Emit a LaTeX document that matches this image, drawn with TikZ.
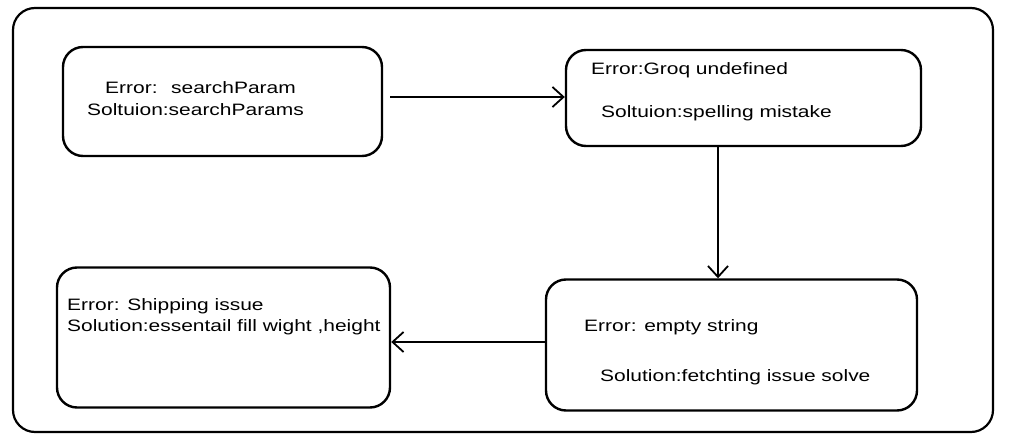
\documentclass[tikz,border=0pt]{standalone}
\usepackage{fontspec}
\setmainfont[FakeStretch=1.27]{Liberation Sans}
\usepackage{tikz}
\usetikzlibrary{arrows.meta}
\usetikzlibrary{positioning}

\begin{document}
\begin{tikzpicture}[
    x=1pt, y=-1pt,
    box/.style={draw, line width=2.4pt, rounded corners=20pt, inner sep=0pt},
    frame/.style={draw, line width=2.2pt, rounded corners=22pt},
    link/.style={line width=2.2pt, -{Straight Barb[length=11pt,width=20pt,line width=1.8pt]}},
    txt/.style={anchor=west, inner sep=0pt, font=\fontsize{16.5}{18}\selectfont}
]
\useasboundingbox (0,0) rectangle (1010,441);

% Outer frame
\draw[frame] (13,8) rectangle (993,432);

% Boxes
\node[box, minimum width=319pt, minimum height=109pt] (err1) at (222.5,101.5) {};
\node[box, minimum width=355pt, minimum height=96pt] (err2) at (743.5,98) {};
\node[box, minimum width=371pt, minimum height=131pt] (err3) at (731.5,345) {};
\node[box, minimum width=333pt, minimum height=140pt] (err4) at (223.5,337.5) {};

% Texts
\node[txt] (e1) at (105,88) {Error: \ searchParam};
\node[txt] (s1) at (87,110) {Soltuion:searchParams};
\node[txt] (e2) at (591,70) {Error:Groq undefined};
\node[txt] (s2) at (601,113) {Soltuion:spelling mistake};
\node[txt] (e3) at (584,327) {Error: empty string};
\node[txt] (s3) at (600,377) {Solution:fetchting issue solve};
\node[txt] (e4) at (67,306) {Error: Shipping issue};
\node[txt] (s4) at (67,327) {Solution:essentail fill wight ,height};

% Arrows
\coordinate (a1) at (390,97);
\coordinate (a2) at (718,146);
\coordinate (a3) at (546,342);
\draw[link] (a1) -- (err2.west |- a1);
\draw[link] (a2) -- (a2 |- err3.north);
\draw[link] (a3) -- (err4.east |- a3);

\end{tikzpicture}
\end{document}
